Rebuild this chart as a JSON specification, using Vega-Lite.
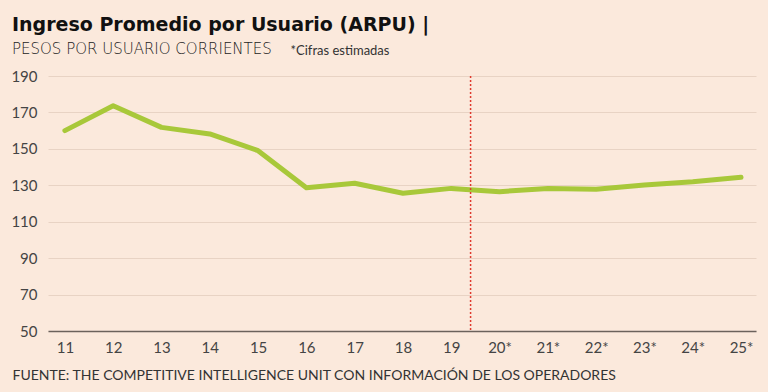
{
  "$schema": "https://vega.github.io/schema/vega-lite/v6.json",
  "width": 708,
  "height": 255,
  "autosize": {"type": "none"},
  "padding": {"left": 48, "top": 76, "right": 12, "bottom": 61},
  "background": "#fbe9dc",
  "title": {
    "text": "Ingreso Promedio por Usuario (ARPU) |",
    "subtitle": "PESOS POR USUARIO CORRIENTES",
    "anchor": "start",
    "frame": "group",
    "dx": -36,
    "offset": -13,
    "font": "DejaVu Sans",
    "fontSize": 19,
    "fontWeight": "bold",
    "color": "#111111",
    "subtitleFont": "DejaVu Sans",
    "subtitleFontSize": 15,
    "subtitleFontWeight": 200,
    "subtitleColor": "#222222",
    "subtitlePadding": 7
  },
  "config": {
    "view": {"stroke": null},
    "font": "Lato"
  },
  "layer": [
    {
      "data": {
        "values": [
          {"year": 11, "arpu": 160},
          {"year": 12, "arpu": 173.7},
          {"year": 13, "arpu": 161.8},
          {"year": 14, "arpu": 158.2},
          {"year": 15, "arpu": 149},
          {"year": 16, "arpu": 128.7},
          {"year": 17, "arpu": 131.1},
          {"year": 18, "arpu": 125.6},
          {"year": 19, "arpu": 128.3},
          {"year": 20, "arpu": 126.5},
          {"year": 21, "arpu": 128.3},
          {"year": 22, "arpu": 127.8},
          {"year": 23, "arpu": 130.2},
          {"year": 24, "arpu": 132},
          {"year": 25, "arpu": 134.4}
        ]
      },
      "mark": {"type": "line", "color": "#a8c83a", "strokeWidth": 5, "strokeCap": "round", "strokeJoin": "round"},
      "encoding": {
        "x": {
          "field": "year",
          "type": "quantitative",
          "scale": {"domain": [10.65, 25.31], "nice": false, "zero": false},
          "axis": {
            "values": [11, 12, 13, 14, 15, 16, 17, 18, 19, 20, 21, 22, 23, 24, 25],
            "labelExpr": "datum.value >= 20 ? datum.value + '*' : '' + datum.value",
            "grid": false,
            "ticks": false,
            "domain": true,
            "domainColor": "#6b625c",
            "domainWidth": 1.5,
            "labelFont": "Lato",
            "labelFontSize": 15,
            "labelColor": "#444444",
            "labelPadding": 9,
            "labelFlush": false,
            "title": "FUENTE: THE COMPETITIVE INTELLIGENCE UNIT CON INFORMACIÓN DE LOS OPERADORES",
            "titleFont": "Lato",
            "titleFontSize": 14,
            "titleFontWeight": "normal",
            "titleColor": "#333333",
            "titleAnchor": "start",
            "titleAlign": "left",
            "titleBaseline": "top",
            "titleX": -36,
            "titleY": 37
          }
        },
        "y": {
          "field": "arpu",
          "type": "quantitative",
          "scale": {"domain": [50, 190], "nice": false, "zero": false},
          "axis": {
            "values": [50, 70, 90, 110, 130, 150, 170, 190],
            "grid": true,
            "gridColor": "#e8d3c4",
            "gridWidth": 1,
            "ticks": false,
            "domain": false,
            "labelFont": "Lato",
            "labelFontSize": 15,
            "labelColor": "#444444",
            "labelPadding": 11,
            "title": "*Cifras estimadas",
            "titleFont": "Lato",
            "titleFontSize": 13,
            "titleFontWeight": "normal",
            "titleColor": "#333333",
            "titleAngle": 0,
            "titleAlign": "left",
            "titleBaseline": "alphabetic",
            "titleX": 242,
            "titleY": -22
          }
        }
      }
    },
    {
      "data": {"values": [{"split": 19.4}]},
      "mark": {"type": "rule", "color": "#e03a2e", "strokeWidth": 1.5, "strokeDash": [2, 2]},
      "encoding": {
        "x": {"field": "split", "type": "quantitative"}
      }
    }
  ]
}
